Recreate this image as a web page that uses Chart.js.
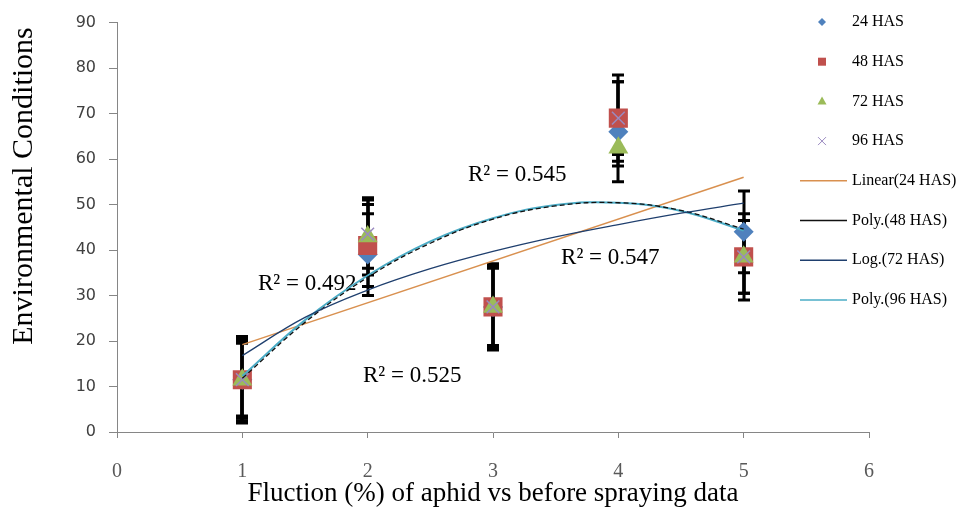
<!DOCTYPE html>
<html><head><meta charset="utf-8">
<script src="https://cdn.jsdelivr.net/npm/chart.js@4.4.1/dist/chart.umd.min.js"></script>
<style>html,body{margin:0;padding:0;background:#fff;}#wrap{width:964px;height:510px;}</style>
</head><body><div id="wrap"><canvas id="c" width="964" height="510"></canvas></div>
<script>
// ---- data ----
const xValues = [1, 2, 3, 4, 5];
const seriesNames = ['24 HAS', '48 HAS', '72 HAS', '96 HAS'];
const has24 = [11.5, 39, 27.5, 66, 44];
const has48 = [11.5, 41, 27.5, 69, 38.5];
const has72 = [11.5, 43, 27.5, 62.5, 38.5];
const has96 = [11.5, 43.5, 27.5, 69, 38.5];
const err24 = [9, 9, 9, 11, 9];
const err48 = [9.5, 9, 9.5, 9.5, 9.5];
const err72 = [8.5, 8.5, 9, 4, 8];
const err96 = [8, 7.5, 8.5, 8, 8];
const trendNames = ['Linear(24 HAS)', 'Poly.(48 HAS)', 'Log.(72 HAS)', 'Poly.(96 HAS)'];
const linearX = [1, 5];
const linear24 = [19.2, 56];
const trendX = [1, 1.5, 2, 2.5, 3, 3.5, 4, 4.5, 5];
const poly48 = [11.8, 24.1, 34.0, 41.5, 46.8, 49.7, 50.4, 48.7, 44.6];
const log72 = [16.8, 25.2, 31.2, 35.9, 39.7, 42.9, 45.6, 48.1, 50.3];
const poly96 = [12.3, 24.6, 34.4, 41.9, 47.0, 49.9, 50.4, 48.6, 44.3];
const r2Texts = ['R\u00B2 = 0.545', 'R\u00B2 = 0.492', 'R\u00B2 = 0.525', 'R\u00B2 = 0.547'];
const xTicks = [0, 1, 2, 3, 4, 5, 6];
const yTicks = [0, 10, 20, 30, 40, 50, 60, 70, 80, 90];
const xTitle = 'Fluction (%) of aphid vs before spraying data';
const yTitle = 'Environmental Conditions';

// ---- styling ----
const markerColors = ['#4F81BD', '#C0504D', '#9BBB59', '#9A8AC0'];
const trendColors = ['#D9904F', '#111111', '#1F3F6E', '#4BACC6'];
const r2Pos = [[2.80, 56.5], [1.125, 32.5], [1.963, 12.3], [3.543, 38.3]];

const pts = (xs, ys) => xs.map((x, i) => ({x: x, y: ys[i]}));
const seriesVals = [has24, has48, has72, has96];
const seriesErr = [err24, err48, err72, err96];

const markerDefs = [
  {style: 'rectRot', r: 10, order: 8},
  {style: 'rect', r: 13.5, order: 7},
  {style: 'triangle', r: 11.5, order: 6},
  {style: 'crossRot', r: 9, order: 5}
];

const datasets = [];
seriesVals.forEach((vals, s) => {
  datasets.push({
    label: seriesNames[s], data: pts(xValues, vals), showLine: false,
    pointStyle: markerDefs[s].style, pointRadius: markerDefs[s].r,
    backgroundColor: markerColors[s], borderColor: markerColors[s],
    pointBorderWidth: s === 3 ? 1.5 : 0, order: markerDefs[s].order
  });
});
datasets.push({label: trendNames[0], data: pts(linearX, linear24), showLine: true, pointRadius: 0,
  borderColor: trendColors[0], borderWidth: 1.5, order: 4});
datasets.push({label: trendNames[3], data: pts(trendX, poly96), showLine: true, pointRadius: 0, tension: 0.4,
  borderColor: trendColors[3], borderWidth: 2, order: 3});
datasets.push({label: trendNames[1], data: pts(trendX, poly48), showLine: true, pointRadius: 0, tension: 0.4,
  borderColor: trendColors[1], borderWidth: 1.3, borderDash: [5, 3], order: 2});
datasets.push({label: trendNames[2], data: pts(trendX, log72), showLine: true, pointRadius: 0, tension: 0.4,
  borderColor: trendColors[2], borderWidth: 1.3, order: 1});

const extrasPlugin = {
  id: 'extras',
  beforeDatasetsDraw(chart) {
    const ctx = chart.ctx, xs = chart.scales.x, ys = chart.scales.y;
    ctx.save();
    ctx.fillStyle = '#000';
    ctx.font = '23px "Liberation Serif"';
    ctx.textAlign = 'left'; ctx.textBaseline = 'middle';
    r2Texts.forEach((t, i) => ctx.fillText(t, xs.getPixelForValue(r2Pos[i][0]), ys.getPixelForValue(r2Pos[i][1])));
    ctx.strokeStyle = '#000'; ctx.lineWidth = 3;
    seriesVals.forEach((vals, s) => {
      vals.forEach((v, i) => {
        const px = Math.round(xs.getPixelForValue(xValues[i]));
        const top = ys.getPixelForValue(v + seriesErr[s][i]);
        const bot = ys.getPixelForValue(v - seriesErr[s][i]);
        ctx.beginPath();
        ctx.moveTo(px, top); ctx.lineTo(px, bot);
        ctx.moveTo(px - 6, top); ctx.lineTo(px + 6, top);
        ctx.moveTo(px - 6, bot); ctx.lineTo(px + 6, bot);
        ctx.stroke();
      });
    });
    ctx.restore();
  },
  afterDraw(chart) {
    const ctx = chart.ctx;
    ctx.save();
    // y title
    ctx.fillStyle = '#000';
    ctx.font = '30px "Liberation Serif"';
    ctx.textAlign = 'center'; ctx.textBaseline = 'middle';
    ctx.translate(24, 186); ctx.rotate(-Math.PI / 2);
    ctx.fillText(yTitle, 0, 0);
    ctx.restore();
    // legend
    ctx.save();
    const names = seriesNames.concat(trendNames);
    ctx.font = '16px "Liberation Serif"';
    ctx.textBaseline = 'middle'; ctx.textAlign = 'left';
    names.forEach((n, i) => {
      const y = 22 + i * 39.7, cx = 822;
      if (i < 4) {
        ctx.fillStyle = markerColors[i]; ctx.strokeStyle = markerColors[i];
        ctx.beginPath();
        if (i === 0) { ctx.moveTo(cx, y - 4); ctx.lineTo(cx + 4, y); ctx.lineTo(cx, y + 4); ctx.lineTo(cx - 4, y); ctx.closePath(); ctx.fill(); }
        else if (i === 1) { ctx.fillRect(cx - 4, y - 4, 8, 8); }
        else if (i === 2) { ctx.moveTo(cx, y - 5); ctx.lineTo(cx + 4.5, y + 3); ctx.lineTo(cx - 4.5, y + 3); ctx.closePath(); ctx.fill(); }
        else { ctx.lineWidth = 1; ctx.moveTo(cx - 4, y - 4); ctx.lineTo(cx + 4, y + 4); ctx.moveTo(cx + 4, y - 4); ctx.lineTo(cx - 4, y + 4); ctx.stroke(); }
      } else {
        const k = i - 4;
        ctx.strokeStyle = trendColors[k]; ctx.lineWidth = 1.5;
        ctx.beginPath(); ctx.moveTo(800, y); ctx.lineTo(847, y); ctx.stroke();
      }
      ctx.fillStyle = '#000';
      ctx.fillText(n, 852, y);
    });
    ctx.restore();
  }
};

new Chart(document.getElementById('c'), {
  type: 'scatter',
  data: {datasets: datasets},
  plugins: [extrasPlugin],
  options: {
    responsive: false, animation: false, devicePixelRatio: 1,
    layout: {padding: {left: 0, right: 95, top: 16, bottom: 0}},
    plugins: {legend: {display: false}, tooltip: {enabled: false}},
    scales: {
      x: {
        type: 'linear', min: 0, max: 6,
        afterBuildTicks: (sc) => { sc.ticks = xTicks.map(v => ({value: v})); },
        afterFit: (sc) => { sc.height = 78; },
        grid: {display: true, drawOnChartArea: false, drawTicks: true, tickLength: 6, color: '#868686'},
        border: {color: '#868686', width: 1},
        ticks: {padding: 22, color: '#595959', font: {family: 'Liberation Serif', size: 20}},
        title: {display: true, text: xTitle, color: '#000', font: {family: 'Liberation Serif', size: 27}, padding: {top: 0, bottom: 0}}
      },
      y: {
        type: 'linear', min: 0, max: 90,
        afterBuildTicks: (sc) => { sc.ticks = yTicks.map(v => ({value: v})); },
        afterFit: (sc) => { sc.width = 117; },
        grid: {display: true, drawOnChartArea: false, drawTicks: true, tickLength: 8, color: '#868686'},
        border: {color: '#868686', width: 1},
        ticks: {padding: 13, color: '#404040', font: {family: 'DejaVu Sans', size: 16}}
      }
    }
  }
});
</script></body></html>
